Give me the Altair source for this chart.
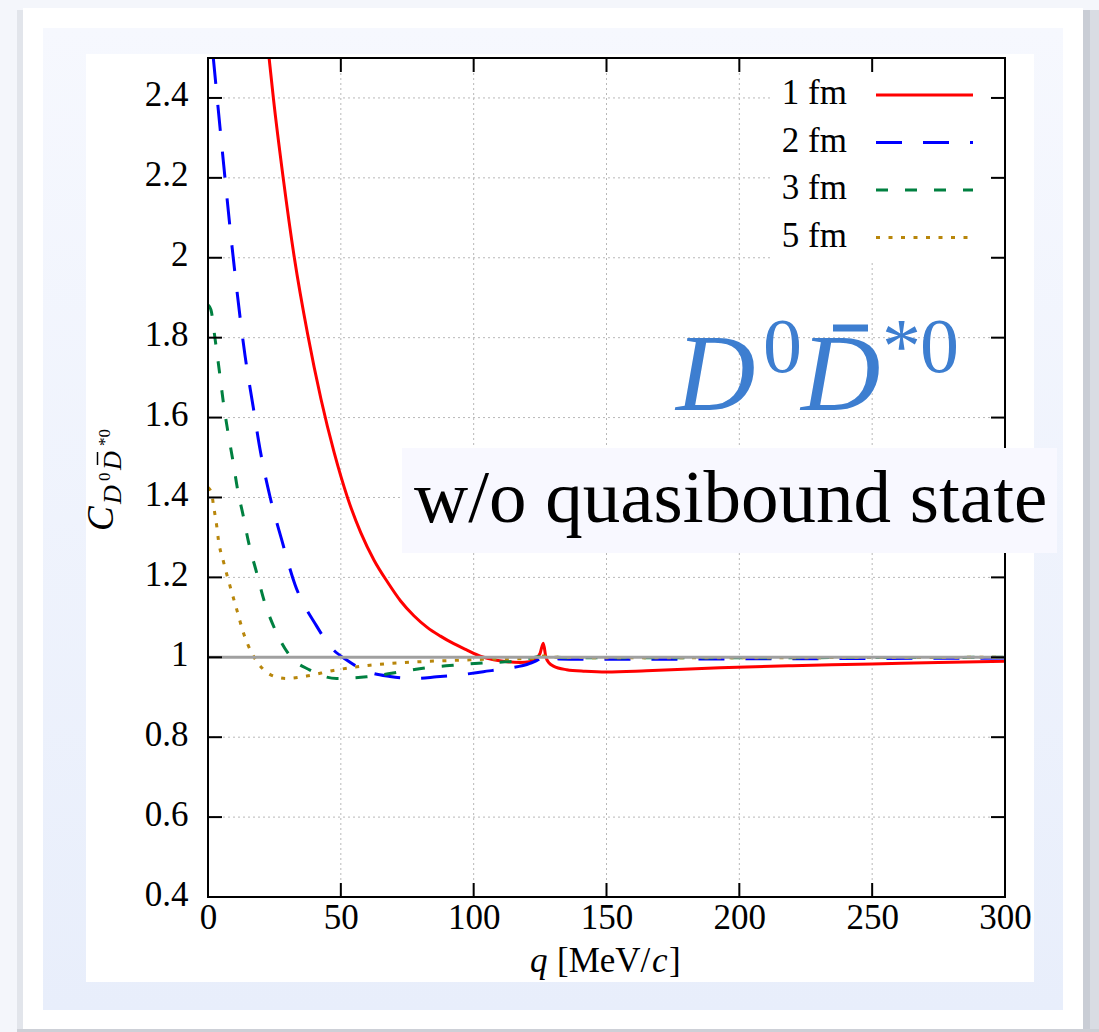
import altair as alt
import pandas as pd

# ---------------- data ----------------
x_ticks = [0, 50, 100, 150, 200, 250, 300]
y_ticks = [0.4, 0.6, 0.8, 1.0, 1.2, 1.4, 1.6, 1.8, 2.0, 2.2, 2.4]
inner_x_ticks = [50, 100, 150, 200, 250]
inner_y_ticks = [0.6, 0.8, 1.0, 1.2, 1.4, 1.6, 1.8, 2.0, 2.2, 2.4]
series_names = ["1 fm", "2 fm", "3 fm", "5 fm"]
series_colors = ["#ff0000", "#0000ff", "#008040", "#b8860b"]
series_dashes = [[1, 0], [26, 21], [12, 17], [4, 8.5]]

q_1fm = [23.0, 24.6, 28.3, 32.5, 37.5, 42.5, 47.5, 52.5, 57.5, 62.5, 67.5, 72.5,
         77.5, 82.5, 87.5, 92.5, 97.5, 102.5, 107.5, 112.5, 117.5, 121.0, 123.5,
         125.0, 126.2, 127.2, 128.5, 130.0, 135.0, 142.0, 150.0, 165.0, 192.7,
         220.0, 250.0, 275.0, 300.0]
c_1fm = [2.5, 2.4, 2.2, 2.0, 1.809, 1.647, 1.512, 1.40, 1.312, 1.243, 1.189, 1.141,
         1.104, 1.075, 1.053, 1.034, 1.018, 1.003, 0.994, 0.989, 0.987, 0.989, 0.997,
         1.01, 1.035, 1.0, 0.985, 0.978, 0.969, 0.965, 0.963, 0.966, 0.974,
         0.979, 0.983, 0.987, 0.99]

q_2fm = [2.0, 5.5, 9.5, 13.9, 17.0, 19.6, 23.3, 27.7, 32.7, 40.9, 45.9, 52.2,
         61.0, 68.5, 77.3, 86.1, 96.1, 103.6, 112.4, 121.2, 124.5, 126.2, 128.0,
         132.0, 140.0, 160.0, 200.0, 250.0, 300.0]
c_2fm = [2.5, 2.26, 2.0, 1.757, 1.627, 1.52, 1.403, 1.295, 1.183, 1.078, 1.028, 0.993,
         0.962, 0.952, 0.947, 0.951, 0.957, 0.964, 0.972, 0.985, 0.995, 1.006, 1.0,
         0.996, 0.995, 0.995, 0.996, 0.997, 0.998]

q_3fm = [0.0, 1.1, 2.6, 4.5, 5.8, 7.6, 9.5, 11.2, 13.3, 15.2, 18.3, 21.2, 25.2,
         30.9, 38.4, 48.4, 59.7, 71.0, 82.3, 92.3, 103.6, 114.9, 121.2, 124.5,
         126.2, 128.0, 135.0, 160.0, 200.0, 300.0]
c_3fm = [1.882, 1.870, 1.800, 1.705, 1.637, 1.560, 1.487, 1.418, 1.353, 1.29, 1.212,
         1.14, 1.07, 1.003, 0.968, 0.947, 0.951, 0.962, 0.974, 0.98, 0.986, 0.99,
         0.998, 1.002, 1.006, 1.002, 0.999, 0.999, 0.999, 1.0]

q_5fm = [0.0, 1.4, 2.0, 2.6, 3.3, 3.9, 5.8, 8.3, 10.8, 13.3, 17.1, 20.8, 25.0,
         29.6, 37.1, 47.2, 61.0, 77.3, 96.1, 110.0, 122.4, 126.2, 130.0, 150.0,
         200.0, 300.0]
c_5fm = [1.425, 1.41, 1.383, 1.358, 1.328, 1.295, 1.24, 1.178, 1.12, 1.062, 1.003,
         0.97, 0.952, 0.947, 0.953, 0.967, 0.98, 0.988, 0.993, 0.996, 0.997, 1.003,
         1.0, 0.999, 0.999, 1.0]

series_q = [q_1fm, q_2fm, q_3fm, q_5fm]
series_c = [c_1fm, c_2fm, c_3fm, c_5fm]

# ---------------- layout ----------------
SERIF = "Liberation Serif"
OX, OY = 208, 58          # page position of the plot's top-left corner
W, H = 797, 839           # plot area size
BLUE_TXT = "#3d7ed0"

XS = alt.Scale(domain=[0, 300], nice=False, zero=False)
YS = alt.Scale(domain=[0.4, 2.5], nice=False, zero=False)
XA = alt.Axis(values=x_ticks, format="d", title="", domain=False, ticks=False, grid=False,
              labelFont=SERIF, labelFontSize=35, labelColor="black", labelPadding=31,
              labelBaseline="alphabetic", labelFlush=False, labelOverlap=False, zindex=1)
YA = alt.Axis(values=y_ticks, format="~g", title="", domain=False, ticks=False, grid=False,
              labelFont=SERIF, labelFontSize=35, labelColor="black", labelPadding=20,
              labelBaseline="alphabetic", labelOffset=8, labelFlush=False,
              labelOverlap=False, zindex=1)


def X(f):
    return alt.X(f, type="quantitative", scale=XS, axis=XA)


def Y(f):
    return alt.Y(f, type="quantitative", scale=YS, axis=YA)


ONE = pd.DataFrame({"d": [0]})


def px(v):
    return v - OX


def py(v):
    return v - OY


def rect(x1, y1, x2, y2, **kw):
    return alt.Chart(ONE).mark_rect(**kw).encode(
        x=alt.value(px(x1)), x2=alt.value(px(x2)),
        y=alt.value(py(y1)), y2=alt.value(py(y2)))


def text(s, x, y, size, style="normal", color="black", angle=0, align="left"):
    mk = dict(font=SERIF, fontSize=size, fontStyle=style, color=color,
              align=align, baseline="alphabetic")
    if angle:
        mk["angle"] = angle
    return alt.Chart(ONE).mark_text(**mk).encode(
        x=alt.value(px(x)), y=alt.value(py(y)), text=alt.value(s))


def hrule(x1, x2, y, **kw):
    return alt.Chart(ONE).mark_rule(**kw).encode(
        x=alt.value(px(x1)), x2=alt.value(px(x2)), y=alt.value(py(y)))


def vrule(x, y1, y2, **kw):
    return alt.Chart(ONE).mark_rule(**kw).encode(
        x=alt.value(px(x)), y=alt.value(py(y1)), y2=alt.value(py(y2)))


layers = []

# ---- slide background: shadow, card, blue panel, white panel ----
layers.append(rect(17, 10, 23, 1032, color="#e2e5eb"))
layers.append(rect(1083, 10, 1099, 1032, color="#d9dce3"))
layers.append(rect(1083, 10, 1090, 1032, color="#c9cdd5"))
layers.append(rect(17, 1029, 1099, 1032, color="#cdd0d7"))
layers.append(rect(23, 8, 1083, 1029, color="#ffffff"))
layers.append(rect(43, 28, 1063, 1010, color=alt.LinearGradient(
    gradient="linear",
    stops=[alt.GradientStop(color="#f6f8fe", offset=0),
           alt.GradientStop(color="#e8eefb", offset=1)],
    x1=0, x2=0, y1=0, y2=1)))
layers.append(rect(86, 54, 1034, 982, color="#ffffff"))

# ---- grid ----
gx = pd.DataFrame({"v": inner_x_ticks})
gy = pd.DataFrame({"v": inner_y_ticks})
layers.append(alt.Chart(gx).mark_rule(color="#b8b8b8", strokeWidth=1, strokeDash=[2, 3]).encode(
    x=X("v"), y=alt.value(0), y2=alt.value(H)))
layers.append(alt.Chart(gy).mark_rule(color="#b8b8b8", strokeWidth=1, strokeDash=[2, 3]).encode(
    y=Y("v"), x=alt.value(0), x2=alt.value(W)))

# ---- legend backdrop ----
layers.append(rect(773, 60, 993, 262, color="#ffffff"))

# ---- curves ----
for name, qs, cs, col, dash in zip(series_names, series_q, series_c, series_colors, series_dashes):
    df = pd.DataFrame({"q": qs, "C": cs, "s": name})
    mk = dict(color=col, strokeWidth=3, clip=True, interpolate="monotone", strokeCap="butt")
    if dash != [1, 0]:
        mk["strokeDash"] = dash
    layers.append(alt.Chart(df).mark_line(**mk).encode(x=X("q"), y=Y("C"), order="q:Q"))

# ---- reference line C = 1 ----
layers.append(alt.Chart(pd.DataFrame({"v": [1.0]})).mark_rule(color="#a0a0a0", strokeWidth=3).encode(
    y=Y("v"), x=alt.value(0), x2=alt.value(W)))

# ---- frame and inward ticks ----
layers.append(alt.Chart(ONE).mark_rect(fillOpacity=0, stroke="black", strokeWidth=2).encode(
    x=alt.value(0), x2=alt.value(W), y=alt.value(0), y2=alt.value(H)))
layers.append(alt.Chart(gx).mark_rule(color="black", strokeWidth=2).encode(
    x=X("v"), y=alt.value(H), y2=alt.value(H - 14)))
layers.append(alt.Chart(gx).mark_rule(color="black", strokeWidth=2).encode(
    x=X("v"), y=alt.value(0), y2=alt.value(14)))
layers.append(alt.Chart(gy).mark_rule(color="black", strokeWidth=2).encode(
    y=Y("v"), x=alt.value(0), x2=alt.value(14)))
layers.append(alt.Chart(gy).mark_rule(color="black", strokeWidth=2).encode(
    y=Y("v"), x=alt.value(W), x2=alt.value(W - 14)))

# ---- legend ----
legend_rows = [95, 142.5, 190, 237.5]
for name, col, dash, yy in zip(series_names, series_colors, series_dashes, legend_rows):
    mk = dict(color=col, strokeWidth=3, strokeCap="butt")
    if dash != [1, 0]:
        mk["strokeDash"] = dash
    layers.append(hrule(876, 973, yy, **mk))
    layers.append(text(name, 847, yy + 9, 35, align="right"))

# ---- big D0 Dbar*0 label ----
layers.append(text("D", 676, 410, 110, style="italic", color=BLUE_TXT))
layers.append(text("0", 763, 372, 78, color=BLUE_TXT))
layers.append(text("D", 801, 410, 110, style="italic", color=BLUE_TXT))
layers.append(hrule(833, 868, 328, color=BLUE_TXT, strokeWidth=7))
layers.append(text("*", 882, 372, 78, color=BLUE_TXT))
layers.append(text("0", 920, 372, 78, color=BLUE_TXT))

# ---- boxed caption ----
layers.append(rect(402, 448, 1057, 553, color="#f8f8ff"))
layers.append(text("w/o quasibound state", 414, 522, 75))

# ---- axis titles ----
layers.append(text("q", 530, 972, 35, style="italic"))
layers.append(text("[MeV/", 557, 972, 35))
layers.append(text("c", 652, 972, 35, style="italic"))
layers.append(text("]", 669, 972, 35))

layers.append(text("C", 113, 531, 37, style="italic", angle=270))
layers.append(text("D", 121, 504, 26, style="italic", angle=270))
layers.append(text("0", 110, 481, 17, angle=270))
layers.append(text("D", 121, 470, 26, style="italic", angle=270))
layers.append(vrule(97.5, 452, 465, color="black", strokeWidth=1.5))
layers.append(text("*0", 110, 446, 17, angle=270))

chart = alt.layer(*layers).properties(
    width=W, height=H,
    padding={"left": OX, "top": OY, "right": 1099 - OX - W, "bottom": 1032 - OY - H},
    autosize=alt.AutoSizeParams(type="none"),
    background="#f4f6fb",
).configure_view(stroke="transparent")

chart.save("out.html", embed_options={"renderer": "svg", "actions": False})
